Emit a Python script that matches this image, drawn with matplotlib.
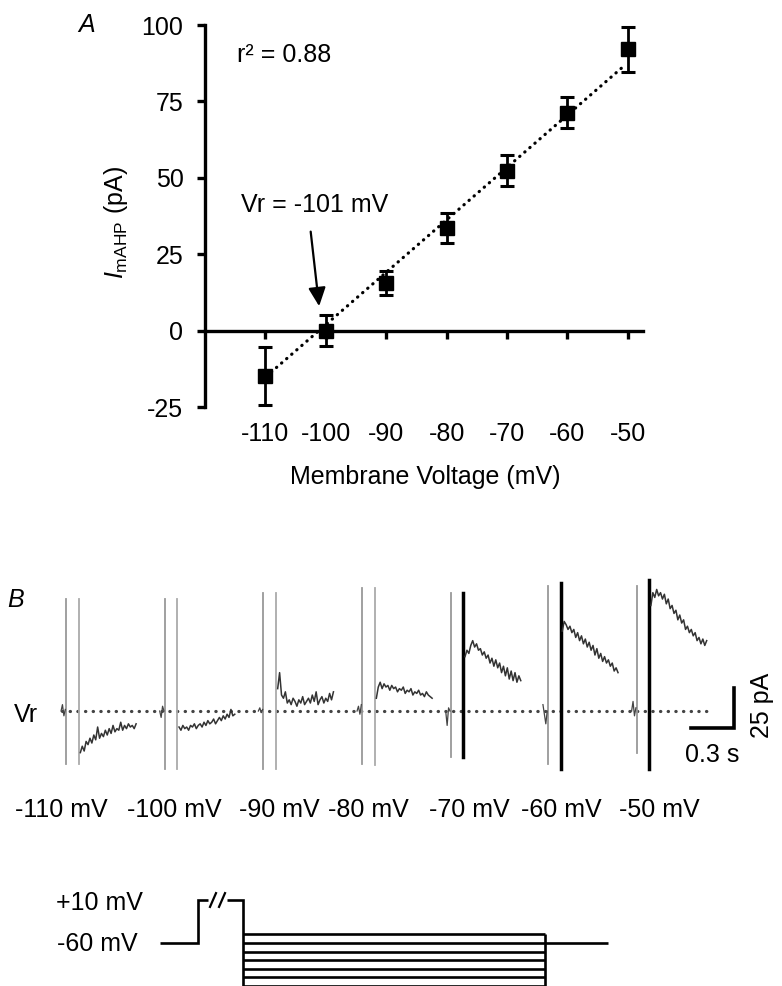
import numpy as np
import matplotlib
matplotlib.use("Agg")
import matplotlib.pyplot as plt

plt.rcParams['font.family'] = ['Liberation Sans', 'DejaVu Sans']
plt.rcParams['mathtext.fontset'] = 'custom'
plt.rcParams['mathtext.rm'] = 'Liberation Sans'
plt.rcParams['mathtext.it'] = 'Liberation Sans:italic'
plt.rcParams['axes.unicode_minus'] = False

# %%
# panel A: I-V relation of ImAHP
voltage = [-110, -100, -90, -80, -70, -60, -50]          # mV
i_mahp = [-15, 0, 15.6, 33.6, 52.4, 71.3, 92]            # pA
i_sem = [9.5, 5, 4, 5, 5, 5, 7.5]                         # pA
fit_v = [-109, -51]
fit_i = [-13.5, 86]
r2 = 0.88
v_rev = -101

# panel B: example current traces (pA, relative to Vr) at each step
sweep_labels = ['-110 mV', '-100 mV', '-90 mV', '-80 mV', '-70 mV', '-60 mV', '-50 mV']
sweep_start = [0.0, 0.69, 1.38, 2.07, 2.69, 3.37, 3.99]   # s
artifact_gap = 0.088                                      # s between the two artifacts
trace_t = np.linspace(0.10, 0.49, 30)                     # s after first artifact
traces = [
    [-26, -22, -25, -19, -21, -17, -20, -15, -18, -10, -17, -14, -16, -12, -15,
     -11, -14, -9, -13, -11, -12, -7, -12, -9, -11, -8, -10, -9, -11, -8],
    [-10, -12, -9, -11, -10, -12, -9, -10, -8, -11, -9, -8, -10, -7, -9,
     -6, -8, -7, -5, -8, -6, -4, -6, -3, -5, -2, -4, 1, -3, -2],
    [14, 24, 10, 8, 12, 5, 7, 4, 8, 6, 3, 7, 5, 9, 4,
     6, 8, 5, 10, 6, 12, 4, 7, 9, 5, 8, 6, 11, 7, 12],
    [8, 15, 18, 14, 17, 15, 16, 13, 16, 14, 15, 12, 14, 13, 15,
     11, 13, 12, 14, 10, 12, 11, 13, 10, 11, 9, 12, 10, 9, 8],
    [34, 38, 36, 41, 44, 40, 42, 38, 39, 35, 37, 33, 35, 30, 33,
     28, 32, 27, 30, 24, 28, 22, 27, 20, 25, 19, 24, 18, 22, 19],
    [50, 56, 54, 51, 53, 49, 51, 46, 49, 44, 47, 42, 45, 40, 43,
     38, 41, 35, 39, 33, 36, 31, 34, 30, 32, 28, 30, 25, 27, 24],
    [66, 74, 71, 76, 72, 74, 70, 73, 67, 70, 64, 66, 61, 63, 57,
     60, 55, 57, 51, 53, 49, 51, 47, 49, 44, 46, 42, 45, 41, 44],
]
pre_t = [-0.035, -0.025, -0.015, -0.005]
pre_blips = [[0, 4, -3, 1], [0, -4, 3, 0], [0, 2, -1, 1], [0, 3, -2, 4],
             [0, -9, 2, 0], [4, -2, -8, 0], [0, 6, -3, 2]]
art1_top = [70, 70, 74, 77, 74, 78, 78]
art1_bot = [-33, -36, -36, -33, -29, -33, -26]
art2_top = [70, 70, 74, 77, 74, 80, 82]
art2_bot = [-33, -36, -36, -34, -29, -36, -36]
art2_black = [False, False, False, False, True, True, True]

# panel C: voltage protocol (schematic)
hold_v = -60
step_levels = [-50, -60, -70, -80, -90, -100, -110]
pulse_draw_v = -10        # +10 mV pulse drawn truncated (break marks)
t_on, t_off, t_test_end, t_end = 38, 83, 385, 448   # ms (schematic)

# %%
fig = plt.figure(figsize=(7.82, 9.86), dpi=100)

# ---- A ----
axA = fig.add_axes([0.2621, 0.5872, 0.5601, 0.3874])
axA.plot(fit_v, fit_i, color='black', lw=2.3, linestyle=(0, (0.1, 2.0)),
         dash_capstyle='round', zorder=2)
axA.errorbar(voltage, i_mahp, yerr=i_sem, fmt='s', color='black', ms=10,
             elinewidth=2.0, capsize=5, capthick=2.2, zorder=3)
axA.set_xlim(-120, -47.5)
axA.set_ylim(-25, 100)
axA.set_xticks(voltage)
axA.set_yticks([-25, 0, 25, 50, 75, 100])
for s in ['top', 'right']:
    axA.spines[s].set_visible(False)
axA.spines['bottom'].set_position(('data', 0))
for s in ['left', 'bottom']:
    axA.spines[s].set_linewidth(2.4)
axA.tick_params(width=2.4, length=5.5, labelsize=18)
axA.tick_params(axis='x', pad=60)
axA.tick_params(axis='y', pad=10)
axA.set_xlabel('Membrane Voltage (mV)', fontsize=18)
axA.xaxis.set_label_coords(0.502, -0.152)
axA.set_ylabel(r'$\mathit{I}_{\mathrm{mAHP}}$ (pA)', fontsize=18)
axA.yaxis.set_label_coords(-0.171, 0.484)
axA.text(-114.7, 90.2, f'r\u00b2 = {r2:.2f}', fontsize=18, va='center')
axA.text(-101.8, 41.2, f'Vr = {v_rev} mV', fontsize=18, ha='center', va='center')
axA.annotate('', xy=(-101.1, 8.0), xytext=(-102.5, 32.4),
             arrowprops=dict(arrowstyle='-|>,head_length=0.75,head_width=0.35',
                             color='black', lw=1.6, mutation_scale=15,
                             shrinkA=0, shrinkB=0))
fig.text(87 / 782, 1 - 25 / 986, 'A', style='italic', fontsize=18, ha='center', va='center')

# ---- B ----
axB = fig.add_axes([0.0512, 0.1582, 0.9463, 0.2738])
axB.set_xlim(-0.1818, 4.993)
axB.set_ylim(-74.375, 94.375)
axB.axis('off')
axB.plot([-0.03, 4.52], [0, 0], color='#444444', lw=2.3,
         linestyle=(0, (0.1, 2.3)), dash_capstyle='round', zorder=1)
label_t = [-0.035, 0.755, 1.49, 2.112, 2.818, 3.462, 4.147]
for i, t0 in enumerate(sweep_start):
    axB.plot([t0, t0], [art1_bot[i], art1_top[i]], color='#999999', lw=1.3)
    if art2_black[i]:
        axB.plot([t0 + artifact_gap] * 2, [art2_bot[i], art2_top[i]], color='black', lw=2.5)
    else:
        axB.plot([t0 + artifact_gap] * 2, [art2_bot[i], art2_top[i]], color='#aaaaaa', lw=1.3)
    axB.plot(t0 + np.array(pre_t), pre_blips[i], color='#444444', lw=0.9)
    axB.plot(t0 + trace_t, traces[i], color='#333333', lw=1.1)
    axB.text(label_t[i], -61.9, sweep_labels[i], fontsize=18, ha='center', va='center')
axB.text(-0.28, -2.5, 'Vr', fontsize=18, ha='center', va='center')
# scale bar: 0.3 s, 25 pA
sb_t, sb_i = 4.671, -10.6
axB.plot([sb_t - 0.3, sb_t, sb_t], [sb_i, sb_i, sb_i + 25], color='black', lw=2.6,
         solid_joinstyle='miter')
axB.text(sb_t - 0.15, -27.5, '0.3 s', fontsize=18, ha='center', va='center')
axB.text(4.87, 3.75, '25 pA', fontsize=18, ha='center', va='center', rotation=90)
fig.text(16 / 782, 1 - 600 / 986, 'B', style='italic', fontsize=18, ha='center', va='center')

# ---- protocol ----
axC = fig.add_axes([0, 0, 1, 0.1075])
axC.set_xlim(-160, 622)
axC.set_ylim(-110, 13.26)
axC.axis('off')
kw = dict(color='black', lw=1.9, solid_joinstyle='miter', solid_capstyle='butt')
axC.plot([0, t_on, t_on, 48], [hold_v, hold_v, pulse_draw_v, pulse_draw_v], **kw)
axC.plot([67, t_off, t_off], [pulse_draw_v, pulse_draw_v, min(step_levels)], **kw)
for v in step_levels:
    axC.plot([t_off, t_test_end], [v, v], **kw)
axC.plot([t_test_end, t_test_end], [min(step_levels), max(step_levels)], **kw)
axC.plot([t_test_end, t_end], [hold_v, hold_v], **kw)
for tb in [53, 62]:
    axC.plot([tb - 3, tb + 3], [pulse_draw_v - 8, pulse_draw_v + 8], color='black', lw=1.6)
axC.text(-61, -13.5, '+10 mV', fontsize=18, ha='center', va='center')
axC.text(-63, -61, '-60 mV', fontsize=18, ha='center', va='center')

plt.savefig('out.png', dpi=100)
